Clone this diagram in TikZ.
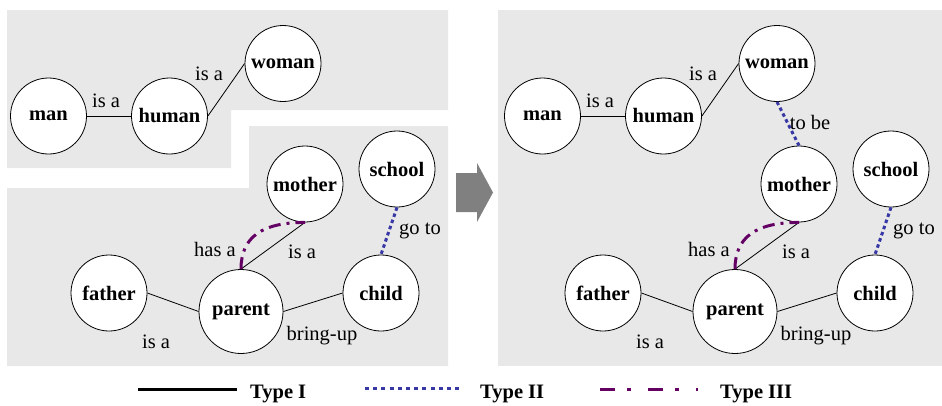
\documentclass[tikz,border=0pt]{standalone}
\usepackage{fontspec}
\setmainfont{Liberation Serif}
\usepackage{tikz}
\usetikzlibrary{arrows.meta}
\definecolor{typetwoblue}{RGB}{55,55,165}
\definecolor{typethreepurple}{RGB}{100,0,100}

\begin{document}
\begin{tikzpicture}[x=1pt,y=-1pt,
  concept/.style={circle,draw,line width=0.8pt,fill=white,minimum size=76pt,inner sep=0pt,font=\bfseries\fontsize{20.5}{24}\selectfont},
  rel/.style={inner sep=0pt,font=\fontsize{20.5}{24}\selectfont},
  typeI/.style={line width=0.8pt},
  typeII/.style={typetwoblue,line width=3pt,dash pattern=on 3.5pt off 3pt},
  typeIII/.style={typethreepurple,line width=3pt,dash pattern=on 12pt off 6pt on 3pt off 6pt},
  legend/.style={anchor=west,inner sep=0pt,font=\bfseries\fontsize{20.5}{24}\selectfont}]
\useasboundingbox (0,0) rectangle (942,405);
% grey panels
\fill[black!9] (7,10) -- (448,10) -- (448,110) -- (231,110) -- (231,168) -- (7,168) -- cycle;
\fill[black!9] (7,188) -- (249,188) -- (249,126) -- (448,126) -- (448,366) -- (7,366) -- cycle;
\fill[black!9] (498,10) rectangle (942,366);
% arrow between the panels
\fill[black!50] (456,173) -- (477,173) -- (477,163) -- (493,192.5) -- (477,222) -- (477,212) -- (456,212) -- cycle;
% the two concept graphs
\foreach \p/\dx in {L/0,R/494}{
  \begin{scope}[xshift=\dx]
  \node[concept] (man\p) at (48.5,116) {man};
  \node[concept] (human\p) at (169.5,116) {human};
  \node[concept] (woman\p) at (283,63.5) {woman};
  \node[concept] (mother\p) at (305,184) {mother};
  \node[concept] (school\p) at (397,169) {school};
  \node[concept] (father\p) at (109,293) {father};
  \node[concept,minimum size=84pt] (parent\p) at (241,311.5) {parent};
  \node[concept] (child\p) at (381,293) {child};
  \draw[typeI] (man\p.east) -- (human\p.west);
  \draw[typeI] (human\p.east) -- (woman\p.west);
  \draw[typeI] (mother\p.south) -- (parent\p.north);
  \draw[typeI] (father\p.east) -- (parent\p.west);
  \draw[typeI] (parent\p.east) -- (child\p.west);
  \draw[typeII] (school\p.south) -- (child\p.north);
  \draw[typeIII] (parent\p.north) .. controls +(0,-32) and +(-43,0) .. (mother\p.south);
  \node[rel] (isaMH\p) at (106,101) {is a};
  \node[rel] (isaHW\p) at (209,74) {is a};
  \node[rel] (hasa\p) at (215,249) {has a};
  \node[rel] (isaMP\p) at (302,252) {is a};
  \node[rel] (goto\p) at (420,231) {go to};
  \node[rel] (isaFP\p) at (156,342) {is a};
  \node[rel] (bringup\p) at (322,336) {bring-up};
  \end{scope}
}
\draw[typeII] (womanR.south) -- (motherR.north);
\node[rel] (tobeR) at (810,122) {to be};
% legend
\node[legend] (lgI) at (250,394) {Type I};
\node[legend] (lgII) at (480,394) {Type II};
\node[legend] (lgIII) at (720,394) {Type III};
\draw[line width=3pt] ([shift={(-112,-5)}]lgI.west) -- ++(99,0);
\draw[typeII,dash pattern=on 4pt off 4.2pt] ([shift={(-115,-6)}]lgII.west) -- ++(98,0);
\draw[typeIII,dash pattern=on 15pt off 12pt on 4pt off 17pt] ([shift={(-120,-5)}]lgIII.west) -- ++(98,0);
\end{tikzpicture}
\end{document}
